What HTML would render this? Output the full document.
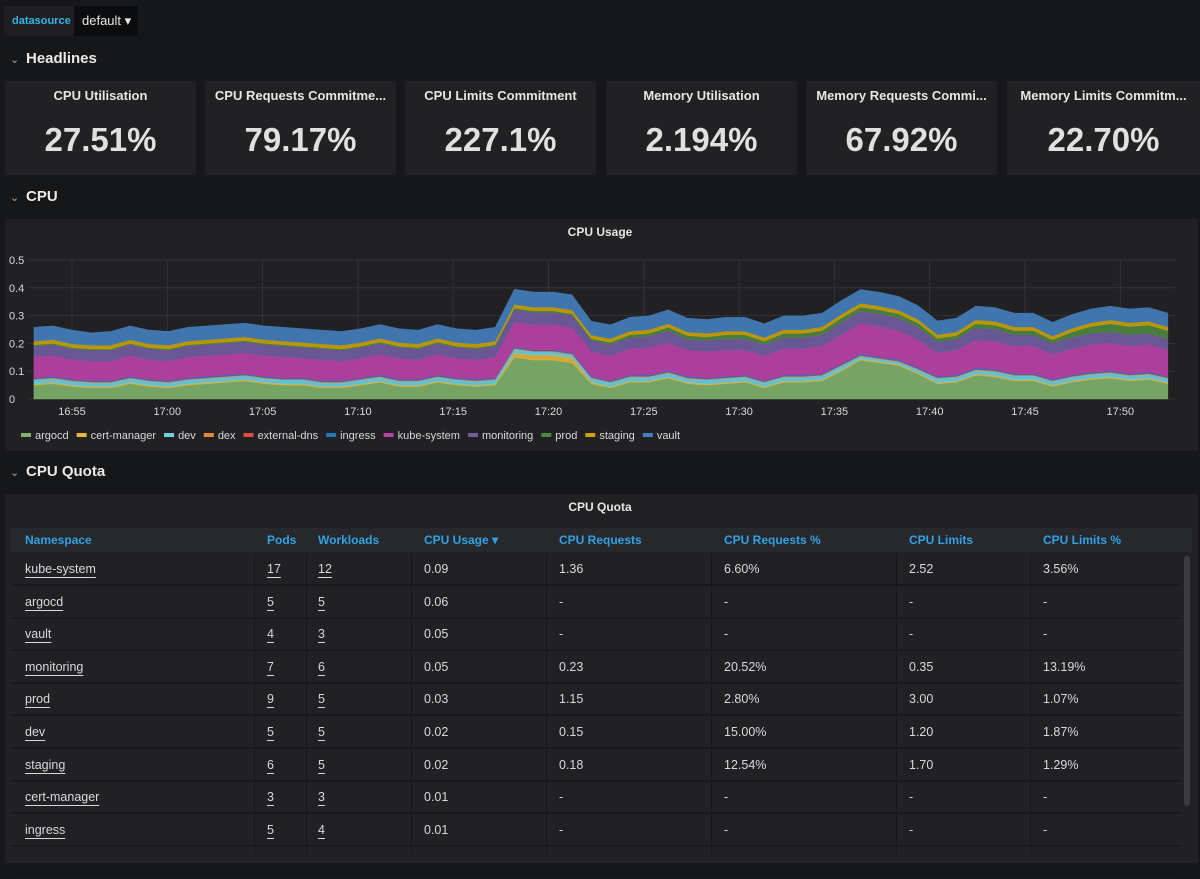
<!DOCTYPE html>
<html><head><meta charset="utf-8">
<style>
*{box-sizing:border-box;margin:0;padding:0}
body{width:1200px;height:876px;background:#161719;font-family:"Liberation Sans",sans-serif;color:#d8d9da;position:relative;overflow:hidden}
.abs{position:absolute}
.row-title{position:absolute;left:10px;font-size:15px;font-weight:bold;color:#e9e9e9}
.row-title span{display:inline-block;width:16px;color:#aaa;font-size:11px;font-weight:normal}
.panel{position:absolute;background:#212124}
.stat .t{position:absolute;top:7px;left:0;right:0;text-align:center;font-size:13px;font-weight:bold;color:#e6e6e6;white-space:nowrap;overflow:hidden;padding:0 8px}
.stat .v{position:absolute;top:40px;left:0;right:0;text-align:center;font-size:33px;font-weight:bold;color:#e0e0e0}
.th{position:absolute;top:533px;font-size:12px;font-weight:bold;color:#33a2e5}
.cell{position:absolute;font-size:12.5px;color:#d8d9da}
.u{text-decoration:underline;text-underline-offset:4px}
</style></head><body>
<div class="abs" style="left:4px;top:6px;width:70px;height:30px;background:#1f1f22;color:#33b5e5;font-size:11px;font-weight:bold;line-height:30px;padding-left:8px">datasource</div>
<div class="abs" style="left:74px;top:6px;width:64px;height:30px;background:#0b0c0e;font-size:13px;line-height:30px;padding-left:8px;color:#e6e6e6">default ▾</div>

<div class="row-title" style="top:50px"><span>⌄</span>Headlines</div>
<div class="panel stat" style="left:5px;top:81px;width:191px;height:94px"><div class="t">CPU Utilisation</div><div class="v">27.51%</div></div>
<div class="panel stat" style="left:205px;top:81px;width:191px;height:94px"><div class="t">CPU Requests Commitme...</div><div class="v">79.17%</div></div>
<div class="panel stat" style="left:405px;top:81px;width:191px;height:94px"><div class="t">CPU Limits Commitment</div><div class="v">227.1%</div></div>
<div class="panel stat" style="left:606px;top:81px;width:191px;height:94px"><div class="t">Memory Utilisation</div><div class="v">2.194%</div></div>
<div class="panel stat" style="left:806px;top:81px;width:191px;height:94px"><div class="t">Memory Requests Commi...</div><div class="v">67.92%</div></div>
<div class="panel stat" style="left:1007px;top:81px;width:193px;height:94px"><div class="t">Memory Limits Commitm...</div><div class="v">22.70%</div></div>

<div class="row-title" style="top:188px"><span>⌄</span>CPU</div>
<div class="panel" style="left:5px;top:219px;width:1193px;height:232px"></div>
<div class="abs" style="left:0;width:1200px;top:225px;text-align:center;font-size:12px;font-weight:bold;color:#e6e6e6">CPU Usage</div>
<svg id="chart" class="abs" style="left:0;top:0" width="1200" height="460"></svg>

<div class="row-title" style="top:463px"><span>⌄</span>CPU Quota</div>
<div class="panel" style="left:5px;top:494px;width:1193px;height:369px"></div>
<div class="abs" style="left:0;width:1200px;top:500px;text-align:center;font-size:12px;font-weight:bold;color:#e6e6e6">CPU Quota</div>
<div class="abs" style="left:11px;top:528px;width:1181px;height:24px;background:#27282b"></div>
<div id="tbl"></div>
<div class="abs" style="left:1184px;top:556px;width:6px;height:250px;background:#3a3b3f;border-radius:3px"></div>

<script>
const times=["16:55","17:00","17:05","17:10","17:15","17:20","17:25","17:30","17:35","17:40","17:45","17:50"];
const yTicks=[0,0.1,0.2,0.3,0.4,0.5];
const seriesNames=["argocd","cert-manager","dev","dex","external-dns","ingress","kube-system","monitoring","prod","staging","vault"];
const seriesColors=["#7eb26d","#eab839","#6ed0e0","#ef843c","#e24d42","#1f78c1","#ba43a9","#705da0","#508642","#cca300","#447ebc"];
const argocd=[.05,.055,.045,.04,.04,.055,.045,.04,.05,.055,.06,.065,.055,.05,.05,.04,.04,.05,.06,.045,.045,.06,.05,.045,.05,.15,.14,.14,.13,.055,.04,.06,.06,.075,.055,.05,.055,.06,.04,.06,.06,.065,.1,.14,.13,.12,.09,.055,.06,.085,.08,.065,.065,.045,.06,.07,.075,.065,.07,.055];
const certManager=[.004,.004,.004,.004,.004,.004,.004,.004,.004,.004,.004,.004,.004,.004,.004,.004,.004,.004,.004,.004,.004,.004,.004,.004,.004,.015,.018,.018,.018,.005,.004,.004,.004,.004,.004,.004,.004,.004,.004,.004,.004,.004,.004,.004,.004,.004,.004,.004,.004,.004,.004,.004,.004,.004,.004,.004,.004,.004,.004,.004];
const dev=[.015,.015,.015,.015,.015,.015,.015,.015,.015,.015,.015,.015,.015,.015,.015,.015,.015,.015,.015,.015,.015,.015,.015,.015,.015,.015,.012,.012,.012,.015,.015,.015,.015,.015,.015,.015,.015,.015,.015,.015,.015,.015,.015,.01,.01,.01,.012,.015,.015,.015,.015,.015,.015,.015,.015,.015,.015,.015,.015,.015];
const dex=Array(60).fill(.002);
const externalDns=Array(60).fill(.001);
const ingress=Array(60).fill(.004);
const kubeSystem=[.075,.075,.07,.07,.07,.075,.07,.07,.075,.075,.075,.075,.075,.075,.07,.075,.07,.07,.075,.075,.07,.075,.07,.07,.075,.09,.09,.09,.09,.09,.09,.095,.1,.1,.095,.095,.095,.09,.09,.095,.095,.1,.105,.11,.11,.105,.1,.085,.09,.1,.1,.1,.1,.09,.095,.1,.1,.1,.1,.095];
const monitoring=[.04,.04,.04,.04,.04,.04,.04,.04,.04,.04,.04,.04,.04,.04,.04,.04,.04,.04,.04,.04,.04,.04,.04,.04,.04,.045,.045,.045,.045,.04,.04,.04,.04,.045,.04,.04,.04,.04,.04,.04,.04,.04,.045,.045,.045,.045,.045,.04,.04,.045,.045,.04,.04,.04,.04,.04,.04,.04,.04,.04];
const prod=[.004,.004,.004,.004,.004,.004,.004,.004,.004,.004,.004,.004,.004,.004,.004,.004,.004,.004,.004,.004,.004,.004,.004,.004,.004,.005,.005,.005,.005,.005,.008,.01,.01,.012,.012,.012,.015,.015,.012,.015,.015,.015,.015,.015,.015,.015,.015,.012,.012,.015,.015,.015,.015,.012,.02,.025,.03,.03,.03,.03];
const staging=Array(60).fill(.013);
const vault=[.05,.05,.05,.045,.05,.05,.05,.05,.05,.05,.05,.05,.05,.05,.05,.05,.05,.05,.05,.05,.05,.05,.05,.05,.05,.055,.055,.055,.055,.05,.05,.05,.05,.05,.05,.05,.05,.05,.05,.05,.05,.05,.05,.05,.05,.05,.05,.05,.05,.05,.05,.05,.05,.05,.05,.05,.05,.05,.05,.05];
const seriesData=[argocd,certManager,dev,dex,externalDns,ingress,kubeSystem,monitoring,prod,staging,vault];
const startMin=-2;
const NS="http://www.w3.org/2000/svg";
const svg=document.getElementById('chart');
const X0=72,PX_PER_MIN=95.3/5,Y0=399,PX_PER_UNIT=278;
function xMin(m){return X0+m*PX_PER_MIN;}
function yVal(v){return Y0-v*PX_PER_UNIT;}
function mk(tag,attrs){const e=document.createElementNS(NS,tag);for(const k in attrs)e.setAttribute(k,attrs[k]);svg.appendChild(e);return e;}
yTicks.forEach(t=>{
  const l=mk('line',{x1:29,x2:1175,y1:yVal(t),y2:yVal(t),stroke:'#343538','stroke-width':1});
  
  
  const tx=mk('text',{x:9,y:yVal(t)+4,fill:'#d8d9da','font-size':11,'font-family':'Liberation Sans'});
  tx.textContent=String(t);
  
  
});
times.forEach((t,i)=>{
  const x=xMin(i*5);
  const l=mk('line',{x1:x,x2:x,y1:yVal(0.5),y2:Y0,stroke:'#343538','stroke-width':1});
  
  
  const tx=mk('text',{x:x,y:415,fill:'#d8d9da','font-size':11,'text-anchor':'middle','font-family':'Liberation Sans'});
  tx.textContent=t;
  
  
});
const n=argocd.length;
const step=(59.5)/(n-1);
let base=Array(n).fill(0);
seriesData.forEach((arr,s)=>{
  const top=arr.map((v,i)=>base[i]+v);
  let d='';
  for(let i=0;i<n;i++)d+=(i?'L':'M')+xMin(startMin+i*step).toFixed(1)+','+yVal(top[i]).toFixed(1);
  for(let i=n-1;i>=0;i--)d+='L'+xMin(startMin+i*step).toFixed(1)+','+yVal(base[i]).toFixed(1);
  const p=mk('path',{d:d+'Z',fill:seriesColors[s],'fill-opacity':0.9,stroke:seriesColors[s],'stroke-width':0.4});
  
  
  base=top;
});
let lx=21;
seriesNames.forEach((nm,s)=>{
  const r=mk('rect',{x:lx,y:433,width:10,height:4,fill:seriesColors[s]});
  
  
  const tx=mk('text',{x:lx+14,y:439,fill:'#d8d9da','font-size':11,'font-family':'Liberation Sans'});
  tx.textContent=nm;
  
  
  lx+=14+tx.getComputedTextLength()+8;
});

const cols=[25,267,318,424,559,724,909,1043];
const heads=["Namespace","Pods","Workloads","CPU Usage ▾","CPU Requests","CPU Requests %","CPU Limits","CPU Limits %"];
const rows=[["kube-system","17","12","0.09","1.36","6.60%","2.52","3.56%"],["argocd","5","5","0.06","-","-","-","-"],["vault","4","3","0.05","-","-","-","-"],["monitoring","7","6","0.05","0.23","20.52%","0.35","13.19%"],["prod","9","5","0.03","1.15","2.80%","3.00","1.07%"],["dev","5","5","0.02","0.15","15.00%","1.20","1.87%"],["staging","6","5","0.02","0.18","12.54%","1.70","1.29%"],["cert-manager","3","3","0.01","-","-","-","-"],["ingress","5","4","0.01","-","-","-","-"]];
const tbl=document.getElementById('tbl');
heads.forEach((h,i)=>{
  const d=document.createElement('div');d.className='th';d.style.left=cols[i]+'px';d.textContent=h;
  
  
  tbl.appendChild(d);
});
const seps=[254,306,411,546,711,896,1030];
for(let r=0;r<10;r++){
  const y=553+r*32.6;
  const line=document.createElement('div');line.className='abs';
  line.style.cssText=`left:11px;top:${y+31}px;width:1170px;height:2px;background:#18191b`;
  
  
  tbl.appendChild(line);
  seps.forEach(sx=>{const s=document.createElement('div');s.className='abs';s.style.cssText=`left:${sx}px;top:${y}px;width:1px;height:${r==9?8:32}px;background:#141517`;
    
    
    tbl.appendChild(s);});
}
rows.forEach((row,r)=>{
  const y=553+r*32.6+9;
  row.forEach((v,i)=>{
    const d=document.createElement('div');d.className='cell'+(i<3?' u':'');d.style.left=cols[i]+'px';d.style.top=y+'px';d.textContent=v;
    
    
    tbl.appendChild(d);
  });
});
</script>
</body></html>
